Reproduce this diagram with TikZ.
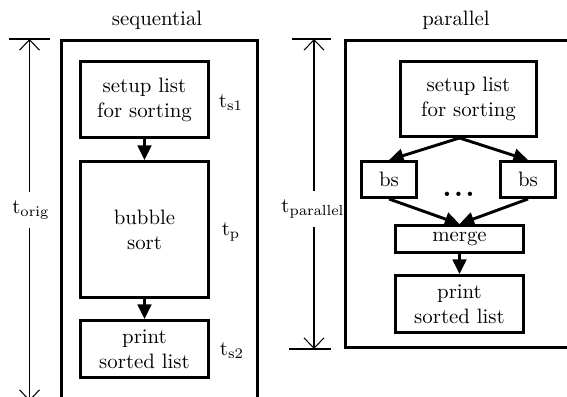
\documentclass[tikz,border=0pt]{standalone}
\usetikzlibrary{arrows.meta}
\begin{document}
\begin{tikzpicture}[x=0.48pt,y=-0.48pt,
  frame/.style={draw,line width=1.4pt},
  task/.style={draw,line width=1.4pt,inner sep=0pt,align=center},
  flow/.style={line width=1.4pt,-{Triangle[length=7pt,width=6.5pt]}},
  dim/.style={line width=0.5pt,-{Straight Barb[length=5pt,width=9.6pt]}},
  tick/.style={line width=0.5pt},
  dimlabel/.style={inner xsep=0pt,inner ysep=4pt},
  timelabel/.style={inner sep=0pt}]
\useasboundingbox (0,0) rectangle (567,396);
\clip (0,0) rectangle (567,396);

% ---------- sequential ----------
\node (seqtitle) at (157,20) {sequential};
\draw[frame] (61.5,40.5) rectangle (257.5,410);

\node[task,minimum width=128*0.48pt,minimum height=76*0.48pt] (setupA) at (144.5,99.5) {setup list\\for sorting};
\node[task,minimum width=128*0.48pt,minimum height=136*0.48pt] (bubble) at (144.5,229.5) {bubble\\sort};
\node[task,minimum width=128*0.48pt,minimum height=57*0.48pt] (printA) at (144.5,349) {print\\sorted list};
\draw[flow] (setupA) -- (bubble);
\draw[flow] (bubble) -- (printA);

\node[timelabel] (ts1) at (231,103) {$\mathrm{t}_{\mathrm{s1}}$};
\node[timelabel] (tp) at (231,232) {$\mathrm{t}_{\mathrm{p}}$};
\node[timelabel] (ts2) at (232,351) {$\mathrm{t}_{\mathrm{s2}}$};

\coordinate (origtop) at (29.5,39);
\coordinate (origbot) at (29.5,401);
\draw[tick] (9,39) -- (50,39);
\draw[tick] (9,403) -- (50,403);
\node[dimlabel] (torig) at (31,210) {$\mathrm{t}_{\mathrm{orig}}$};
\draw[dim] (torig.north -| origtop) -- (origtop);
\draw[dim] (torig.south -| origbot) -- (origbot);

% ---------- parallel ----------
\node (partitle) at (456,20) {parallel};
\draw[frame] (345.5,40.5) rectangle (620,347.5);

\node[task,minimum width=136*0.48pt,minimum height=75*0.48pt] (setupB) at (468.5,99) {setup list\\for sorting};
\node[task,minimum width=55*0.48pt,minimum height=36*0.48pt] (bsL) at (389,179.5) {bs};
\node[task,minimum width=55*0.48pt,minimum height=36*0.48pt] (bsR) at (528,179.5) {bs};
\node[inner sep=0pt] (dots) at (458.5,194) {\Large\bfseries .\kern1pt.\kern1pt.};
\node[task,minimum width=128*0.48pt,minimum height=27*0.48pt] (merge) at (459.5,239) {merge};
\node[task,minimum width=128*0.48pt,minimum height=57*0.48pt] (printB) at (459.5,304) {print\\sorted list};

\coordinate (fork) at (setupB.south -| merge.north);
\draw[flow] (fork) -- (bsL.north);
\draw[flow] (fork) -- (bsR.north);
\draw[flow] (bsL.south) -- (merge.north);
\draw[flow] (bsR.south) -- (merge.north);
\draw[flow] (merge) -- (printB);

\coordinate (partop) at (314,39);
\coordinate (parbot) at (314,349);
\draw[tick] (292,39) -- (331,39);
\draw[tick] (289,349) -- (331,349);
\node[dimlabel] (tpar) at (313,209) {$\mathrm{t}_{\mathrm{parallel}}$};
\draw[dim] (tpar.north -| partop) -- (partop);
\draw[dim] (tpar.south -| parbot) -- (parbot);
\end{tikzpicture}
\end{document}
